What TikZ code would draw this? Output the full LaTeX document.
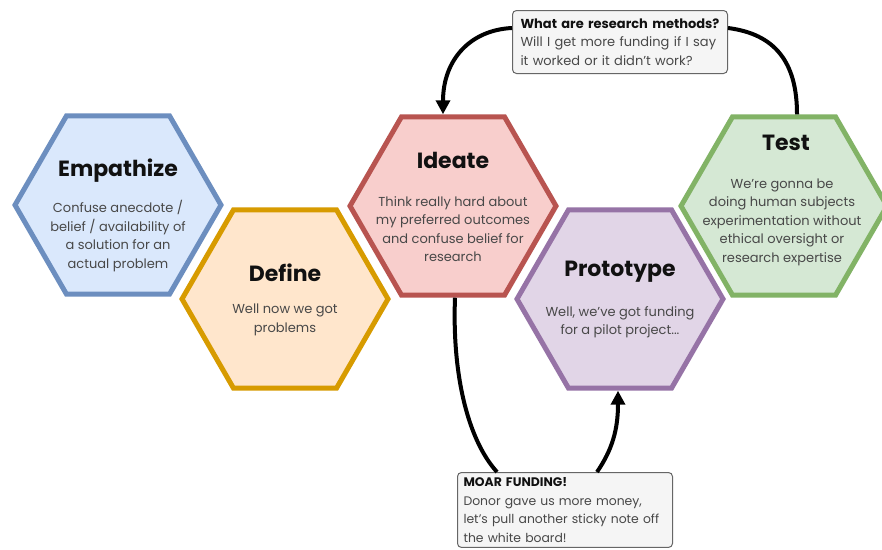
\documentclass[tikz,border=0pt]{standalone}
\usepackage{fontspec}
\setmainfont{Poppins}
\usetikzlibrary{shapes.geometric,arrows.meta,calc}
\definecolor{bluefill}{HTML}{DAE8FC}\definecolor{bluedraw}{HTML}{6C8EBF}
\definecolor{orgfill}{HTML}{FFE6CC}\definecolor{orgdraw}{HTML}{D79B00}
\definecolor{redfill}{HTML}{F8CECC}\definecolor{reddraw}{HTML}{B85450}
\definecolor{purfill}{HTML}{E1D5E7}\definecolor{purdraw}{HTML}{9673A6}
\definecolor{grnfill}{HTML}{D5E8D4}\definecolor{grndraw}{HTML}{82B366}
\definecolor{notefill}{HTML}{F5F5F5}\definecolor{notedraw}{HTML}{666666}
\definecolor{bodycol}{HTML}{484848}\definecolor{titlecol}{HTML}{111111}
\begin{document}
\begin{tikzpicture}[x=1pt,y=-1pt,
  hexa/.style={regular polygon, regular polygon sides=6, minimum size=206pt, inner sep=0pt, line width=5pt},
  ttl/.style={font=\bfseries\fontsize{22}{26}\selectfont, text=titlecol},
  body/.style={font=\fontsize{13}{18.5}\selectfont, text=bodycol, align=center},
  note/.style={draw=notedraw, fill=notefill, line width=1pt, rounded corners=4pt, align=left,
    font=\fontsize{13}{18.5}\selectfont, text=bodycol, inner xsep=8pt, inner ysep=4pt, anchor=north west},
  conn/.style={line width=4pt, draw=black},
  arr/.style={conn, -{Triangle[length=14pt,width=14pt]}}]
\useasboundingbox[fill=white] (0,0) rectangle (882,549);

% hexagons
\node[hexa, draw=bluedraw, fill=bluefill] (emp) at (118,205) {};
\node[hexa, draw=orgdraw, fill=orgfill] (def) at (285,299) {};
\node[hexa, draw=reddraw, fill=redfill] (ide) at (453,206) {};
\node[hexa, draw=purdraw, fill=purfill] (pro) at (620,299) {};
\node[hexa, draw=grndraw, fill=grnfill] (tst) at (784,206) {};

% titles and texts
\node[ttl] (empT) at (118,171) {Empathize};
\node[body] (empB) at (118,236) {Confuse anecdote /\\belief / availability of\\a solution for an\\actual problem};
\node[ttl] (defT) at (285,273) {Define};
\node[body] (defB) at (285,320) {Well now we got\\problems};
\node[ttl] (ideT) at (453,160) {Ideate};
\node[body] (ideB) at (453,229) {Think really hard about\\my preferred outcomes\\and confuse belief for\\research};
\node[ttl] (proT) at (620,272) {Prototype};
\node[body] (proB) at (620,322) {Well, we’ve got funding\\for a pilot project...};
\node[ttl] (tstT) at (786,143) {Test};
\node[body] (tstB) at (782,222) {We’re gonna be\\doing human subjects\\experimentation without\\ethical oversight or\\research expertise};

% notes
\node[note, minimum width=215pt, minimum height=63pt, text width=199pt] (q) at (512,10)
  {{\bfseries\color{titlecol}What are research methods?}\\Will I get more funding if I say\\it worked or it didn’t work?};
\node[note, minimum width=215pt, text width=203pt, inner xsep=6pt, inner ysep=5pt,
      font=\fontsize{12.4}{18.6}\selectfont] (m) at (457,472)
  {{\bfseries\color{titlecol}MOAR FUNDING!}\\Donor gave us more money,\\let’s pull another sticky note off\\the white board!};

% connectors
\draw[arr] ($(q.north west)+(0,18)$) .. controls (470,30) and (443,60) .. ($(ide.north)+(-10,0)$);
\draw[conn] ($(tst.north)+(13,0)$) .. controls (797,62) and (775,34) .. ($(q.north east)+(0,18)$);
\draw[conn] ($(ide.south)+(2,0)$) .. controls (452,375) and (468,440) .. ($(m.north west)+(40,0)$);
\draw[arr] ($(m.north west)+(140,0)$) .. controls (612,450) and (618,430) .. ($(pro.south)+(-2,0)$);
\end{tikzpicture}
\end{document}
